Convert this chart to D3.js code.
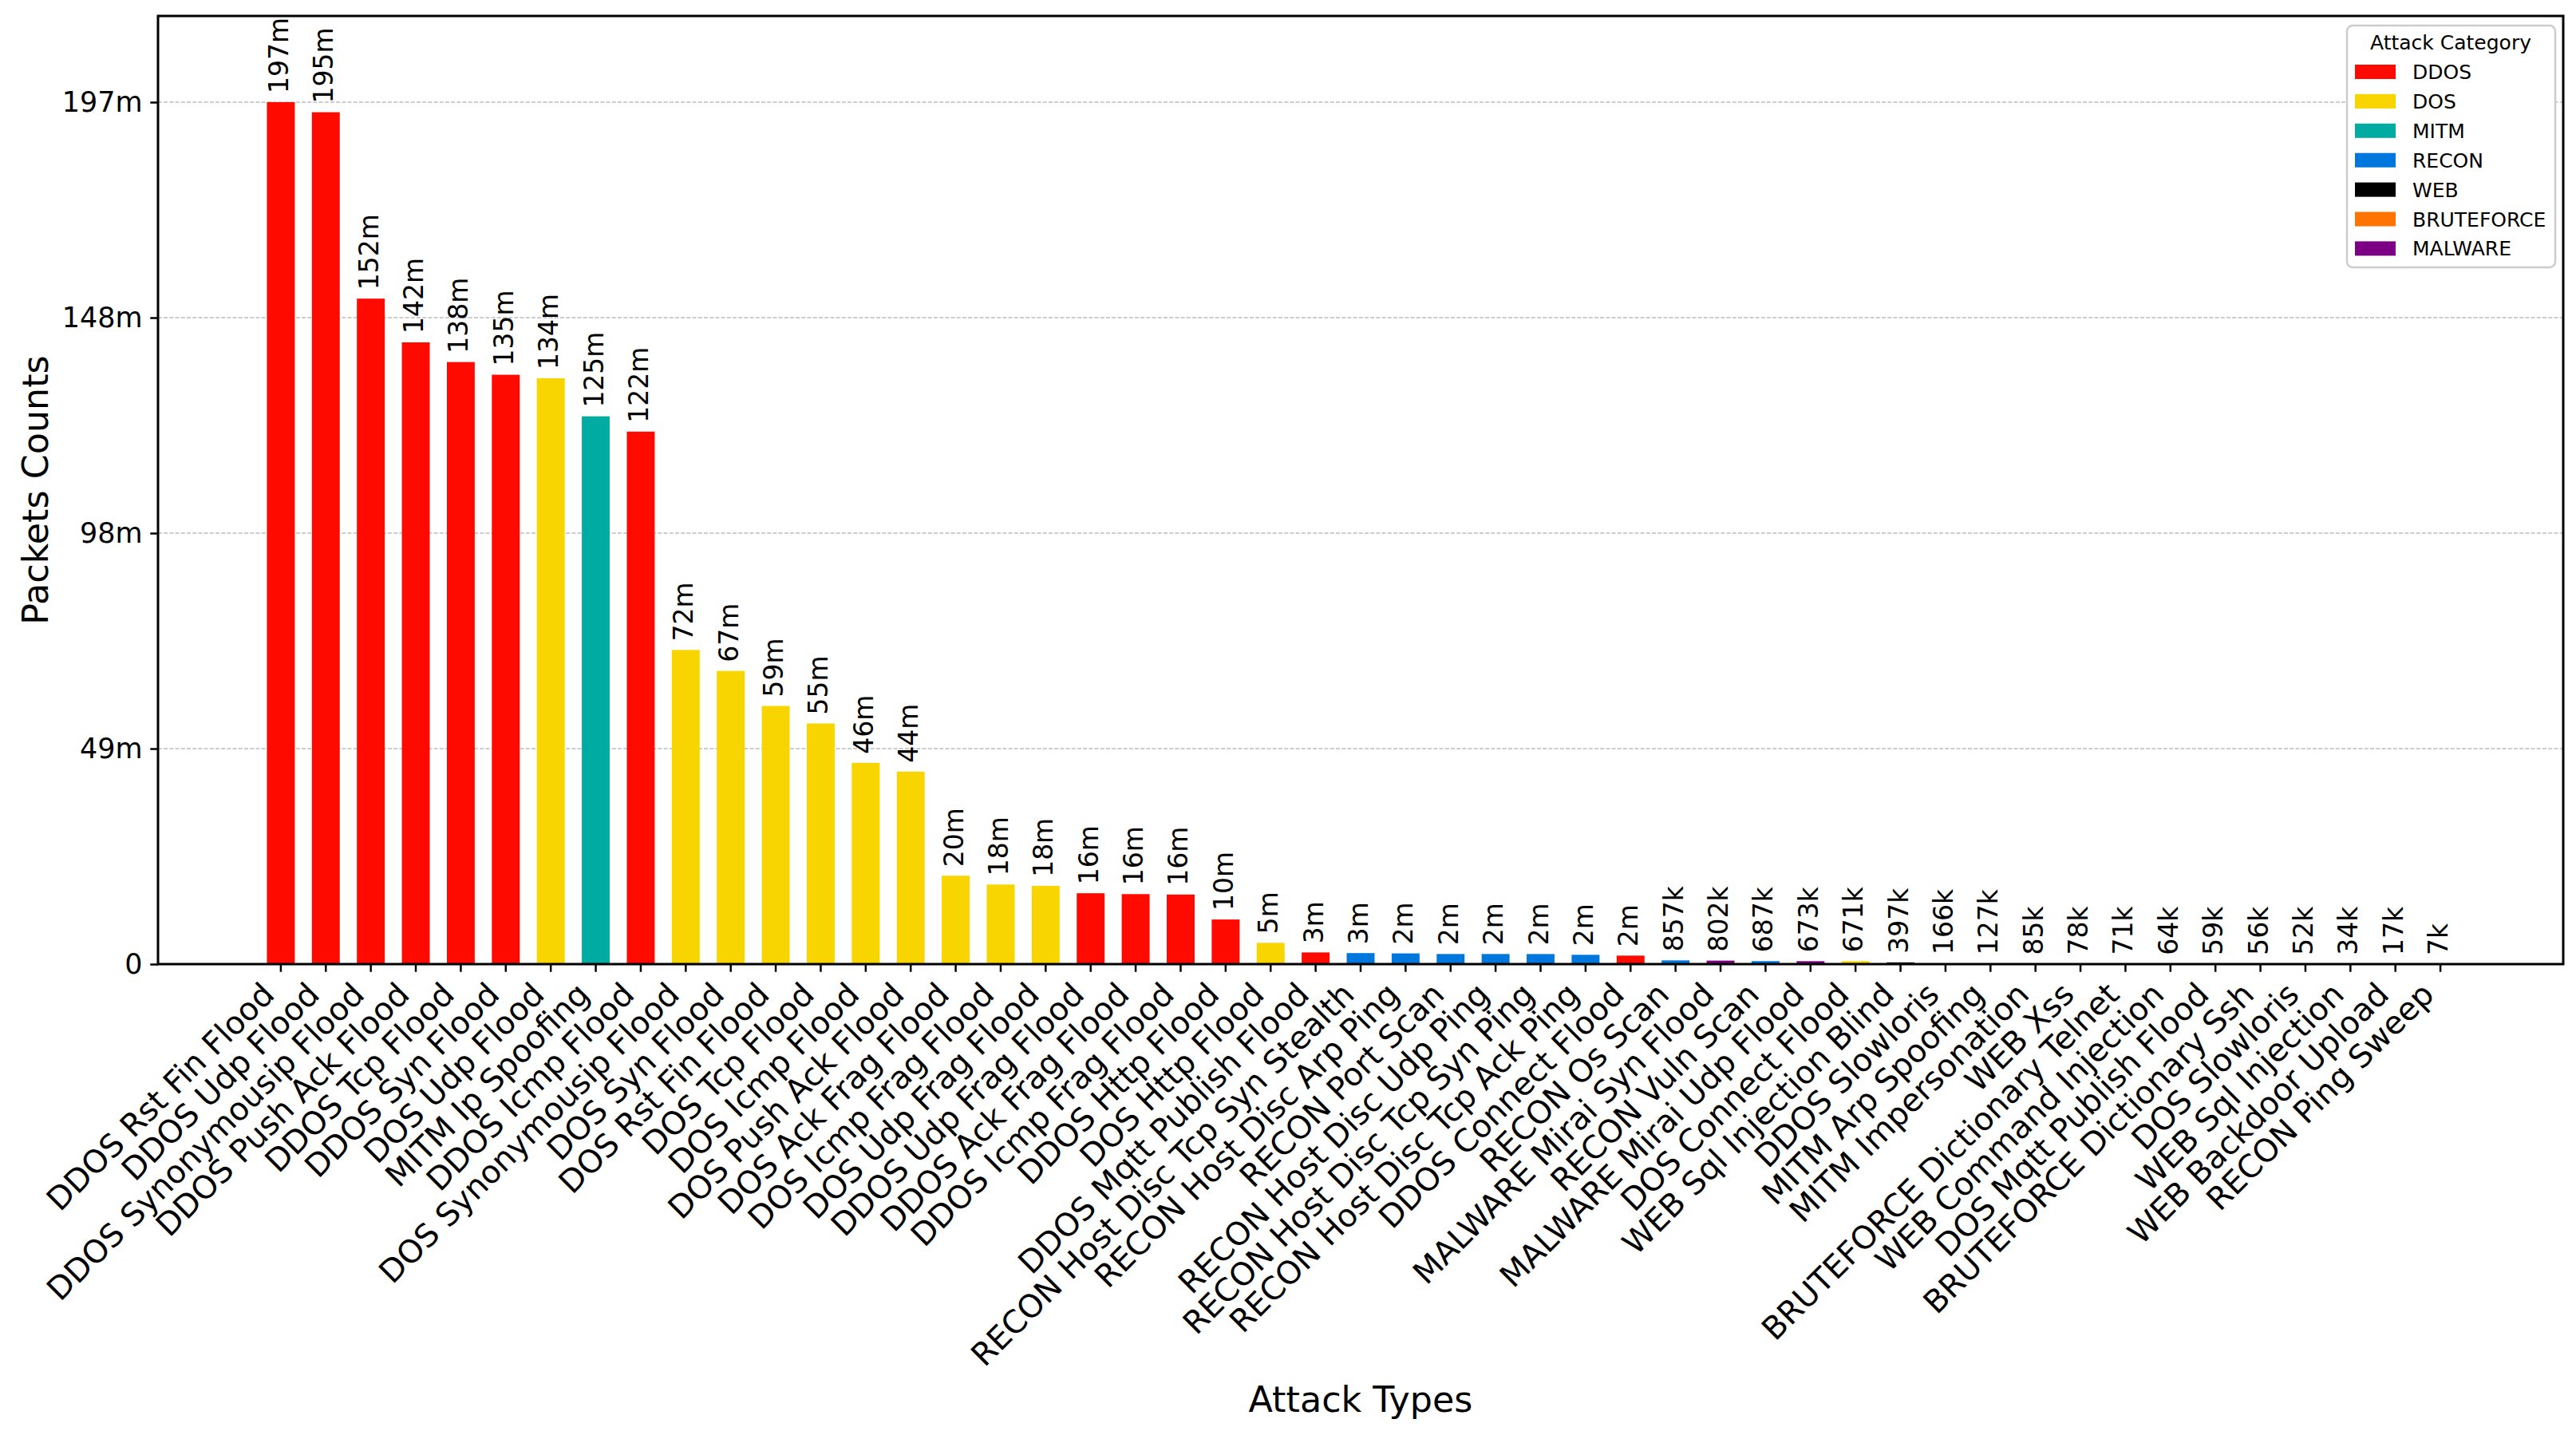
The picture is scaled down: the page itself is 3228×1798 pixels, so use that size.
<!DOCTYPE html>
<html>
<head>
<meta charset="utf-8">
<script src="https://cdn.jsdelivr.net/npm/d3@7"></script>
<style>
  body { margin: 0; background: #fff; }
  text { font-family: "DejaVu Sans", sans-serif; fill: #000; }
</style>
</head>
<body>
<div id="chart"></div>
<script>
const attackTypes = [
  "DDOS Rst Fin Flood", "DDOS Udp Flood", "DDOS Synonymousip Flood", "DDOS Push Ack Flood",
  "DDOS Tcp Flood", "DDOS Syn Flood", "DOS Udp Flood", "MITM Ip Spoofing", "DDOS Icmp Flood",
  "DOS Synonymousip Flood", "DOS Syn Flood", "DOS Rst Fin Flood", "DOS Tcp Flood", "DOS Icmp Flood",
  "DOS Push Ack Flood", "DOS Ack Frag Flood", "DOS Icmp Frag Flood", "DOS Udp Frag Flood",
  "DDOS Udp Frag Flood", "DDOS Ack Frag Flood", "DDOS Icmp Frag Flood", "DDOS Http Flood",
  "DOS Http Flood", "DDOS Mqtt Publish Flood", "RECON Host Disc Tcp Syn Stealth",
  "RECON Host Disc Arp Ping", "RECON Port Scan", "RECON Host Disc Udp Ping",
  "RECON Host Disc Tcp Syn Ping", "RECON Host Disc Tcp Ack Ping", "DDOS Connect Flood",
  "RECON Os Scan", "MALWARE Mirai Syn Flood", "RECON Vuln Scan", "MALWARE Mirai Udp Flood",
  "DOS Connect Flood", "WEB Sql Injection Blind", "DDOS Slowloris", "MITM Arp Spoofing",
  "MITM Impersonation", "WEB Xss", "BRUTEFORCE Dictionary Telnet", "WEB Command Injection",
  "DOS Mqtt Publish Flood", "BRUTEFORCE Dictionary Ssh", "DOS Slowloris", "WEB Sql Injection",
  "WEB Backdoor Upload", "RECON Ping Sweep"
];

// packet counts (millions)
const packetCounts = [
  197.0, 194.7, 152.1, 142.1, 137.6, 134.7, 133.9, 125.2, 121.7,
  71.8, 67.0, 59.0, 55.0, 46.0,
  44.0, 20.2, 18.2, 17.9,
  16.2, 16.0, 15.9, 10.2,
  4.86, 2.67, 2.52,
  2.45, 2.31, 2.31,
  2.30, 2.13, 1.94,
  0.857, 0.802, 0.687, 0.673,
  0.671, 0.397, 0.166, 0.127,
  0.085, 0.078, 0.071, 0.064,
  0.059, 0.056, 0.052, 0.034,
  0.017, 0.007
];

const categories = ["DDOS", "DOS", "MITM", "RECON", "WEB", "BRUTEFORCE", "MALWARE"];
const categoryColors = ["#ff0a00", "#f9d500", "#00aca2", "#0077dc", "#000000", "#ff7400", "#7b0084"];

const yTickLabels = ["0", "49m", "98m", "148m", "197m"];

const W = 3228, H = 1798;
const margin = { top: 20, right: 16, bottom: 590, left: 198 };
const plotW = W - margin.left - margin.right;
const plotH = H - margin.top - margin.bottom;

const maxVal = d3.max(packetCounts);
const color = d3.scaleOrdinal().domain(categories).range(categoryColors);
const categoryOf = name => name.split(" ")[0];

function fmt(v) {
  return v >= 1 ? Math.round(v) + "m" : Math.round(v * 1000) + "k";
}

const svg = d3.select("#chart").append("svg")
  .attr("width", W)
  .attr("height", H);

const g = svg.append("g")
  .attr("transform", `translate(${margin.left},${margin.top})`);

const x = d3.scaleBand()
  .domain(attackTypes)
  .range([0, plotW])
  .paddingInner(0.38)
  .paddingOuter(2.42);

const y = d3.scaleLinear()
  .domain([0, maxVal * 1.1])
  .range([plotH, 0]);

const yTicks = yTickLabels.map((_, i) => maxVal * i / (yTickLabels.length - 1));

// grid
g.append("g")
  .selectAll("line")
  .data(yTicks.slice(1))
  .join("line")
  .attr("x1", 0).attr("x2", plotW)
  .attr("y1", d => y(d)).attr("y2", d => y(d))
  .attr("stroke", "#bdbdbd")
  .attr("stroke-width", 1.4)
  .attr("stroke-dasharray", "5,2.2");

// bars
const data = attackTypes.map((name, i) => ({ name, value: packetCounts[i] }));

g.selectAll("rect.bar")
  .data(data)
  .join("rect")
  .attr("class", "bar")
  .attr("x", d => x(d.name))
  .attr("y", d => y(d.value))
  .attr("width", x.bandwidth())
  .attr("height", d => plotH - y(d.value))
  .attr("fill", d => color(categoryOf(d.name)));

// value labels
g.selectAll("text.val")
  .data(data)
  .join("text")
  .attr("class", "val")
  .attr("transform", d => `translate(${x(d.name) + x.bandwidth() / 2 + 9},${y(d.value) - 11}) rotate(-90)`)
  .attr("font-size", 33)
  .attr("text-anchor", "start")
  .text(d => fmt(d.value));

// x axis
const xAxis = g.append("g")
  .attr("transform", `translate(0,${plotH})`)
  .call(d3.axisBottom(x).tickSize(9.7).tickPadding(0));
xAxis.select(".domain").remove();
xAxis.selectAll(".tick line").attr("stroke", "#000").attr("stroke-width", 2.5);
xAxis.selectAll(".tick text")
  .attr("font-size", 39.7)
  .attr("font-family", "DejaVu Sans")
  .attr("text-anchor", "end")
  .attr("dy", null)
  .attr("y", null)
  .attr("transform", "translate(-5.8,40.5) rotate(-45)");

// y axis
const yAxis = g.append("g")
  .call(d3.axisLeft(y).tickValues(yTicks).tickSize(9.7).tickPadding(9.7)
    .tickFormat((d, i) => yTickLabels[i]));
yAxis.select(".domain").remove();
yAxis.selectAll(".tick line").attr("stroke", "#000").attr("stroke-width", 2.5);
yAxis.selectAll(".tick text")
  .attr("font-size", 35)
  .attr("font-family", "DejaVu Sans");

// frame
g.append("rect")
  .attr("width", plotW)
  .attr("height", plotH)
  .attr("fill", "none")
  .attr("stroke", "#000")
  .attr("stroke-width", 3);

// axis titles
svg.append("text")
  .attr("x", margin.left + plotW / 2)
  .attr("y", 1769)
  .attr("text-anchor", "middle")
  .attr("font-size", 44.4)
  .text("Attack Types");

svg.append("text")
  .attr("transform", `translate(60,${margin.top + plotH / 2}) rotate(-90)`)
  .attr("text-anchor", "middle")
  .attr("font-size", 44.4)
  .text("Packets Counts");

// legend
const legend = svg.append("g").attr("transform", "translate(2941,32)");
legend.append("rect")
  .attr("width", 261)
  .attr("height", 303)
  .attr("rx", 7)
  .attr("fill", "#fff")
  .attr("stroke", "#cccccc")
  .attr("stroke-width", 2.5);
legend.append("text")
  .attr("x", 130)
  .attr("y", 30)
  .attr("text-anchor", "middle")
  .attr("font-size", 25)
  .text("Attack Category");

const item = legend.selectAll("g.item")
  .data(categories)
  .join("g")
  .attr("class", "item")
  .attr("transform", (d, i) => `translate(0,${58 + i * 36.9})`);
item.append("rect")
  .attr("x", 10).attr("y", -9)
  .attr("width", 51).attr("height", 18)
  .attr("fill", d => color(d));
item.append("text")
  .attr("x", 82)
  .attr("y", 9)
  .attr("font-size", 25)
  .text(d => d);
</script>
</body>
</html>
